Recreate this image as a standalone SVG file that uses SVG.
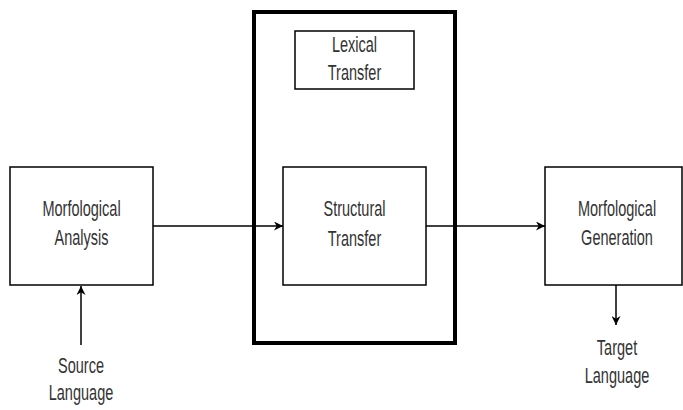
<svg xmlns="http://www.w3.org/2000/svg" width="683" height="410" viewBox="0 0 683 410">
<defs>
<style>
.box{fill:#fff;stroke:#000;stroke-width:1.5}
.t{font-family:"Liberation Sans",Arial,sans-serif;font-size:22px;fill:#333;text-anchor:middle}
.c{stroke:#000;stroke-width:1.5;fill:none}
</style>
<marker id="ah" viewBox="0 0 10 10" refX="10" refY="5" markerWidth="9" markerHeight="9" markerUnits="userSpaceOnUse" orient="auto">
<path d="M0,0 L10,5 L0,10 L3,5 z" fill="#000"/>
</marker>
</defs>
<rect width="683" height="410" fill="#fff"/>
<g id="outer"><rect x="254" y="12" width="201" height="331" fill="none" stroke="#000" stroke-width="4"/></g>
<g id="analysis"><rect class="box" x="10" y="167" width="143" height="118"/>
<text class="t" transform="translate(81.5,216) scale(0.66,1)">Morfological</text>
<text class="t" transform="translate(81.5,245) scale(0.66,1)">Analysis</text></g>
<g id="lexical"><rect class="box" x="295" y="31" width="119" height="58"/>
<text class="t" transform="translate(354.5,52) scale(0.66,1)">Lexical</text>
<text class="t" transform="translate(354.5,80) scale(0.66,1)">Transfer</text></g>
<g id="structural"><rect class="box" x="283" y="167" width="143" height="118"/>
<text class="t" transform="translate(354.5,216) scale(0.66,1)">Structural</text>
<text class="t" transform="translate(354.5,246) scale(0.66,1)">Transfer</text></g>
<g id="generation"><rect class="box" x="545" y="167" width="137" height="118"/>
<text class="t" transform="translate(617,216) scale(0.66,1)">Morfological</text>
<text class="t" transform="translate(617,245) scale(0.66,1)">Generation</text></g>
<g id="source"><text class="t" transform="translate(81,373) scale(0.66,1)">Source</text>
<text class="t" transform="translate(81,400) scale(0.66,1)">Language</text></g>
<g id="target"><text class="t" transform="translate(617,355) scale(0.66,1)">Target</text>
<text class="t" transform="translate(617,383) scale(0.66,1)">Language</text></g>
<g id="connectors">
<line class="c" x1="153" y1="226" x2="283" y2="226" marker-end="url(#ah)"/>
<line class="c" x1="426" y1="226" x2="545" y2="226" marker-end="url(#ah)"/>
<line class="c" x1="81" y1="345" x2="81" y2="286" marker-end="url(#ah)"/>
<line class="c" x1="616" y1="285" x2="616" y2="325" marker-end="url(#ah)"/>
</g>
</svg>
